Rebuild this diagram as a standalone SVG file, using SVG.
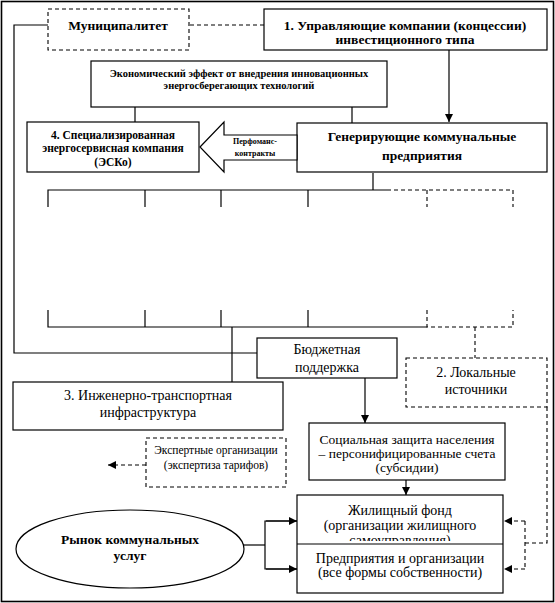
<svg xmlns="http://www.w3.org/2000/svg" width="555" height="603" viewBox="0 0 555 603" font-family="'Liberation Serif', 'DejaVu Serif', serif">
<style>
.b{fill:#fff;stroke:#000;stroke-width:1.2}
.d{fill:#fff;stroke:#000;stroke-width:1.1;stroke-dasharray:4 3}
.l{fill:none;stroke:#000;stroke-width:1.2}
.dl{fill:none;stroke:#000;stroke-width:1.1;stroke-dasharray:4 3}
text{font-family:'Liberation Serif','DejaVu Serif',serif;text-anchor:middle;fill:#000}
.tb{font-weight:bold;font-size:13.5px}
.tn{font-size:14px}
</style>
<defs>
<marker id="ah" viewBox="0 0 10 10" refX="10" refY="5" markerWidth="8" markerHeight="8" markerUnits="userSpaceOnUse" orient="auto">
<path d="M0,0L10,5L0,10z" fill="#000"/>
</marker>
<clipPath id="hc"><rect x="297" y="495" width="206" height="46"/></clipPath>
</defs>
<rect x="1.5" y="1.5" width="552" height="600" fill="#fff" stroke="#000" stroke-width="1.6"/>
<g id="connectors">
<polyline class="l" points="48,25 14,25 14,353 257,353"/>
<line class="dl" x1="190" y1="25" x2="264" y2="25"/>
<line class="l" x1="449" y1="50" x2="449" y2="122" marker-end="url(#ah)"/>
<line class="l" x1="135" y1="107" x2="135" y2="122"/>
<line class="l" x1="352" y1="107" x2="352" y2="123"/>
<line class="l" x1="373" y1="173" x2="373" y2="190"/>
<polyline class="l" points="48,207 48,190 387,190"/>
<line class="l" x1="145" y1="190" x2="145" y2="207"/>
<line class="l" x1="221" y1="190" x2="221" y2="207"/>
<line class="l" x1="308" y1="190" x2="308" y2="207"/>
<polyline class="dl" points="387,190 513,190 513,207"/>
<line class="dl" x1="427" y1="190" x2="427" y2="207"/>
<polyline class="l" points="48,310 48,327 427,327"/>
<line class="l" x1="145" y1="310" x2="145" y2="327"/>
<line class="l" x1="221" y1="310" x2="221" y2="327"/>
<line class="l" x1="308" y1="310" x2="308" y2="327"/>
<polyline class="dl" points="427,310 427,327 513,327 513,310"/>
<line class="l" x1="232" y1="327" x2="232" y2="382"/>
<line class="dl" x1="475" y1="327" x2="475" y2="358"/>
<line class="l" x1="365" y1="378" x2="365" y2="423" marker-end="url(#ah)"/>
<line class="dl" x1="146" y1="465" x2="108" y2="465" marker-end="url(#ah)"/>
<line class="l" x1="406" y1="480" x2="406" y2="495" marker-end="url(#ah)"/>
<polyline class="l" points="243,545 265,545"/>
<polyline class="l" points="297,521 265,521 265,569 297,569"/>
<line class="l" x1="266" y1="521" x2="297" y2="521" marker-end="url(#ah)"/>
<line class="l" x1="266" y1="569" x2="297" y2="569" marker-end="url(#ah)"/>
<polyline class="dl" points="547,407 547,543 525,543"/>
<polyline class="dl" points="525,521 525,569"/>
<line class="dl" x1="525" y1="521" x2="504" y2="521" marker-end="url(#ah)"/>
<line class="dl" x1="525" y1="569" x2="504" y2="569" marker-end="url(#ah)"/>
</g>
<g id="municipality">
<rect class="d" x="48" y="9" width="141" height="41"/>
<text class="tb" x="118" y="30">Муниципалитет</text>
</g>
<g id="management">
<rect class="b" x="264" y="9" width="283" height="41"/>
<text class="tb" x="405" y="30">1. Управляющие компании (концессии)</text>
<text class="tb" x="405" y="44">инвестиционного типа</text>
</g>
<g id="economic-effect">
<rect class="b" x="91" y="61" width="296" height="46"/>
<text font-weight="bold" font-size="10.5px" x="239" y="77">Экономический эффект от внедрения инновационных</text>
<text font-weight="bold" font-size="10.5px" x="239" y="89">энергосберегающих технологий</text>
</g>
<g id="esco">
<rect class="b" x="27" y="122" width="172" height="50"/>
<text font-weight="bold" font-size="11.5px" x="113" y="139">4. Специализированная</text>
<text font-weight="bold" font-size="11.5px" x="113" y="152">энергосервисная компания</text>
<text font-weight="bold" font-size="11.5px" x="113" y="166">(ЭСКо)</text>
</g>
<g id="generating">
<rect class="b" x="297" y="123" width="250" height="49"/>
<text class="tb" x="422" y="141">Генерирующие коммунальные</text>
<text class="tb" x="422" y="160">предприятия</text>
</g>
<g id="performance-arrow">
<polygon class="b" points="200,147 224,122 224,135 297,135 297,160 224,160 224,172"/>
<text font-weight="bold" font-size="8px" x="255" y="144">Перфоманс-</text>
<text font-weight="bold" font-size="8px" x="255" y="156">контракты</text>
</g>
<g id="budget">
<rect class="b" x="257" y="338" width="140" height="40"/>
<text class="tn" x="327" y="354">Бюджетная</text>
<text class="tn" x="327" y="372">поддержка</text>
</g>
<g id="local-sources">
<rect class="d" x="406" y="358" width="141" height="49"/>
<text class="tn" x="476" y="377">2. Локальные</text>
<text class="tn" x="476" y="394">источники</text>
</g>
<g id="infrastructure">
<rect class="b" x="13" y="382" width="270" height="48"/>
<text class="tn" x="148" y="400">3. Инженерно-транспортная</text>
<text class="tn" x="148" y="417">инфраструктура</text>
</g>
<g id="experts">
<rect class="d" x="146" y="438" width="140" height="49"/>
<text font-size="11.5px" x="216" y="454">Экспертные организации</text>
<text font-size="11.5px" x="216" y="469">(экспертиза тарифов)</text>
</g>
<g id="social">
<rect class="b" x="309" y="423" width="196" height="57"/>
<text font-size="13.5px" x="407" y="444">Социальная защита населения</text>
<text font-size="13.5px" x="407" y="458">– персонифицированные счета</text>
<text font-size="13.5px" x="407" y="472">(субсидии)</text>
</g>
<g id="housing">
<rect class="b" x="297" y="495" width="206" height="98"/>
<line class="l" x1="297" y1="544" x2="503" y2="544"/>
<text class="tn" x="400" y="515">Жилищный фонд</text>
<text class="tn" x="400" y="530">(организации жилищного</text>
<text class="tn" x="400" y="545" clip-path="url(#hc)">самоуправления)</text>
<text class="tn" x="400" y="563">Предприятия и организации</text>
<text class="tn" x="400" y="577">(все формы собственности)</text>
</g>
<g id="market">
<ellipse class="b" cx="130" cy="549" rx="114" ry="39"/>
<text class="tb" x="130" y="544">Рынок коммунальных</text>
<text class="tb" x="130" y="560">услуг</text>
</g>
</svg>
